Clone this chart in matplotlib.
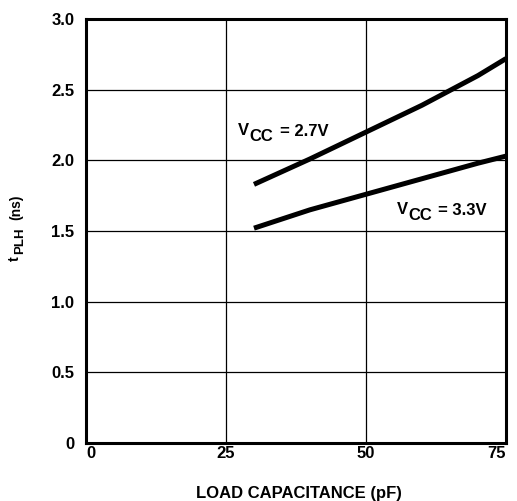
import matplotlib
matplotlib.use("Agg")
import matplotlib.pyplot as plt

plt.rcParams['font.family'] = ['Liberation Sans', 'DejaVu Sans']
plt.rcParams['font.weight'] = 'bold'
plt.rcParams['axes.labelweight'] = 'bold'

load_pf = [30, 40, 50, 60, 70, 75]
tplh_27 = [1.83, 2.01, 2.20, 2.39, 2.60, 2.72]
tplh_33 = [1.52, 1.65, 1.76, 1.87, 1.98, 2.03]
x_ticks = [0, 25, 50, 75]
y_ticks = [0, 0.5, 1.0, 1.5, 2.0, 2.5, 3.0]
y_labels = ['0', '0.5', '1.0', '1.5', '2.0', '2.5', '3.0']

W, H = 517, 501
fig = plt.figure(figsize=(W / 100, H / 100), dpi=100)
ax = fig.add_axes([0.1663, 0.1158, 0.8124, 0.8462])

ax.plot(load_pf, tplh_27, color='black', lw=3.6, solid_capstyle='butt')
ax.plot(load_pf, tplh_33, color='black', lw=3.6, solid_capstyle='butt')

ax.set_xlim(0, 75)
ax.set_ylim(0, 3.0)
ax.set_xticks(x_ticks)
ax.set_xticklabels([str(v) for v in x_ticks])
ax.set_yticks(y_ticks)
ax.set_yticklabels(y_labels)
ax.tick_params(length=0, labelsize=12)
ax.tick_params(axis='x', pad=2)
ax.tick_params(axis='y', pad=8.5)
xl = ax.get_xticklabels()
xl[0].set_ha('left')
xl[-1].set_ha('right')
ax.grid(True, color='black', lw=0.9)
ax.set_axisbelow(True)
for s in ax.spines.values():
    s.set_linewidth(2.2)


def vcc_label(x, y, value):
    kw = dict(xy=(x, y), xycoords='data', textcoords='offset points',
              fontsize=12, fontweight='bold', va='baseline', ha='left')
    ax.annotate('V', xytext=(0, 0.8), **kw)
    ax.annotate('CC', xytext=(8.4, -4.0), **kw)
    ax.annotate('= ' + value, xytext=(30.0, 0), **kw)


vcc_label(27.14, 2.175, '2.7V')
vcc_label(55.48, 1.615, '3.3V')

ax.set_xlabel('LOAD CAPACITANCE (pF)', fontsize=12, fontweight='bold')
ax.xaxis.set_label_coords(0.508, -0.118)
ax.xaxis.label.set_va('center')


def ptext(px, py, s, size):
    fig.text(px / W, 1 - py / H, s, fontsize=size, fontweight='bold',
             rotation=90, rotation_mode='anchor', ha='left', va='baseline')


ptext(18.5, 261, 't', 10.5)
ptext(23.5, 254, 'PLH', 9.5)
ptext(20.0, 220, '(ns)', 10)

fig.savefig('out.png', dpi=100)
